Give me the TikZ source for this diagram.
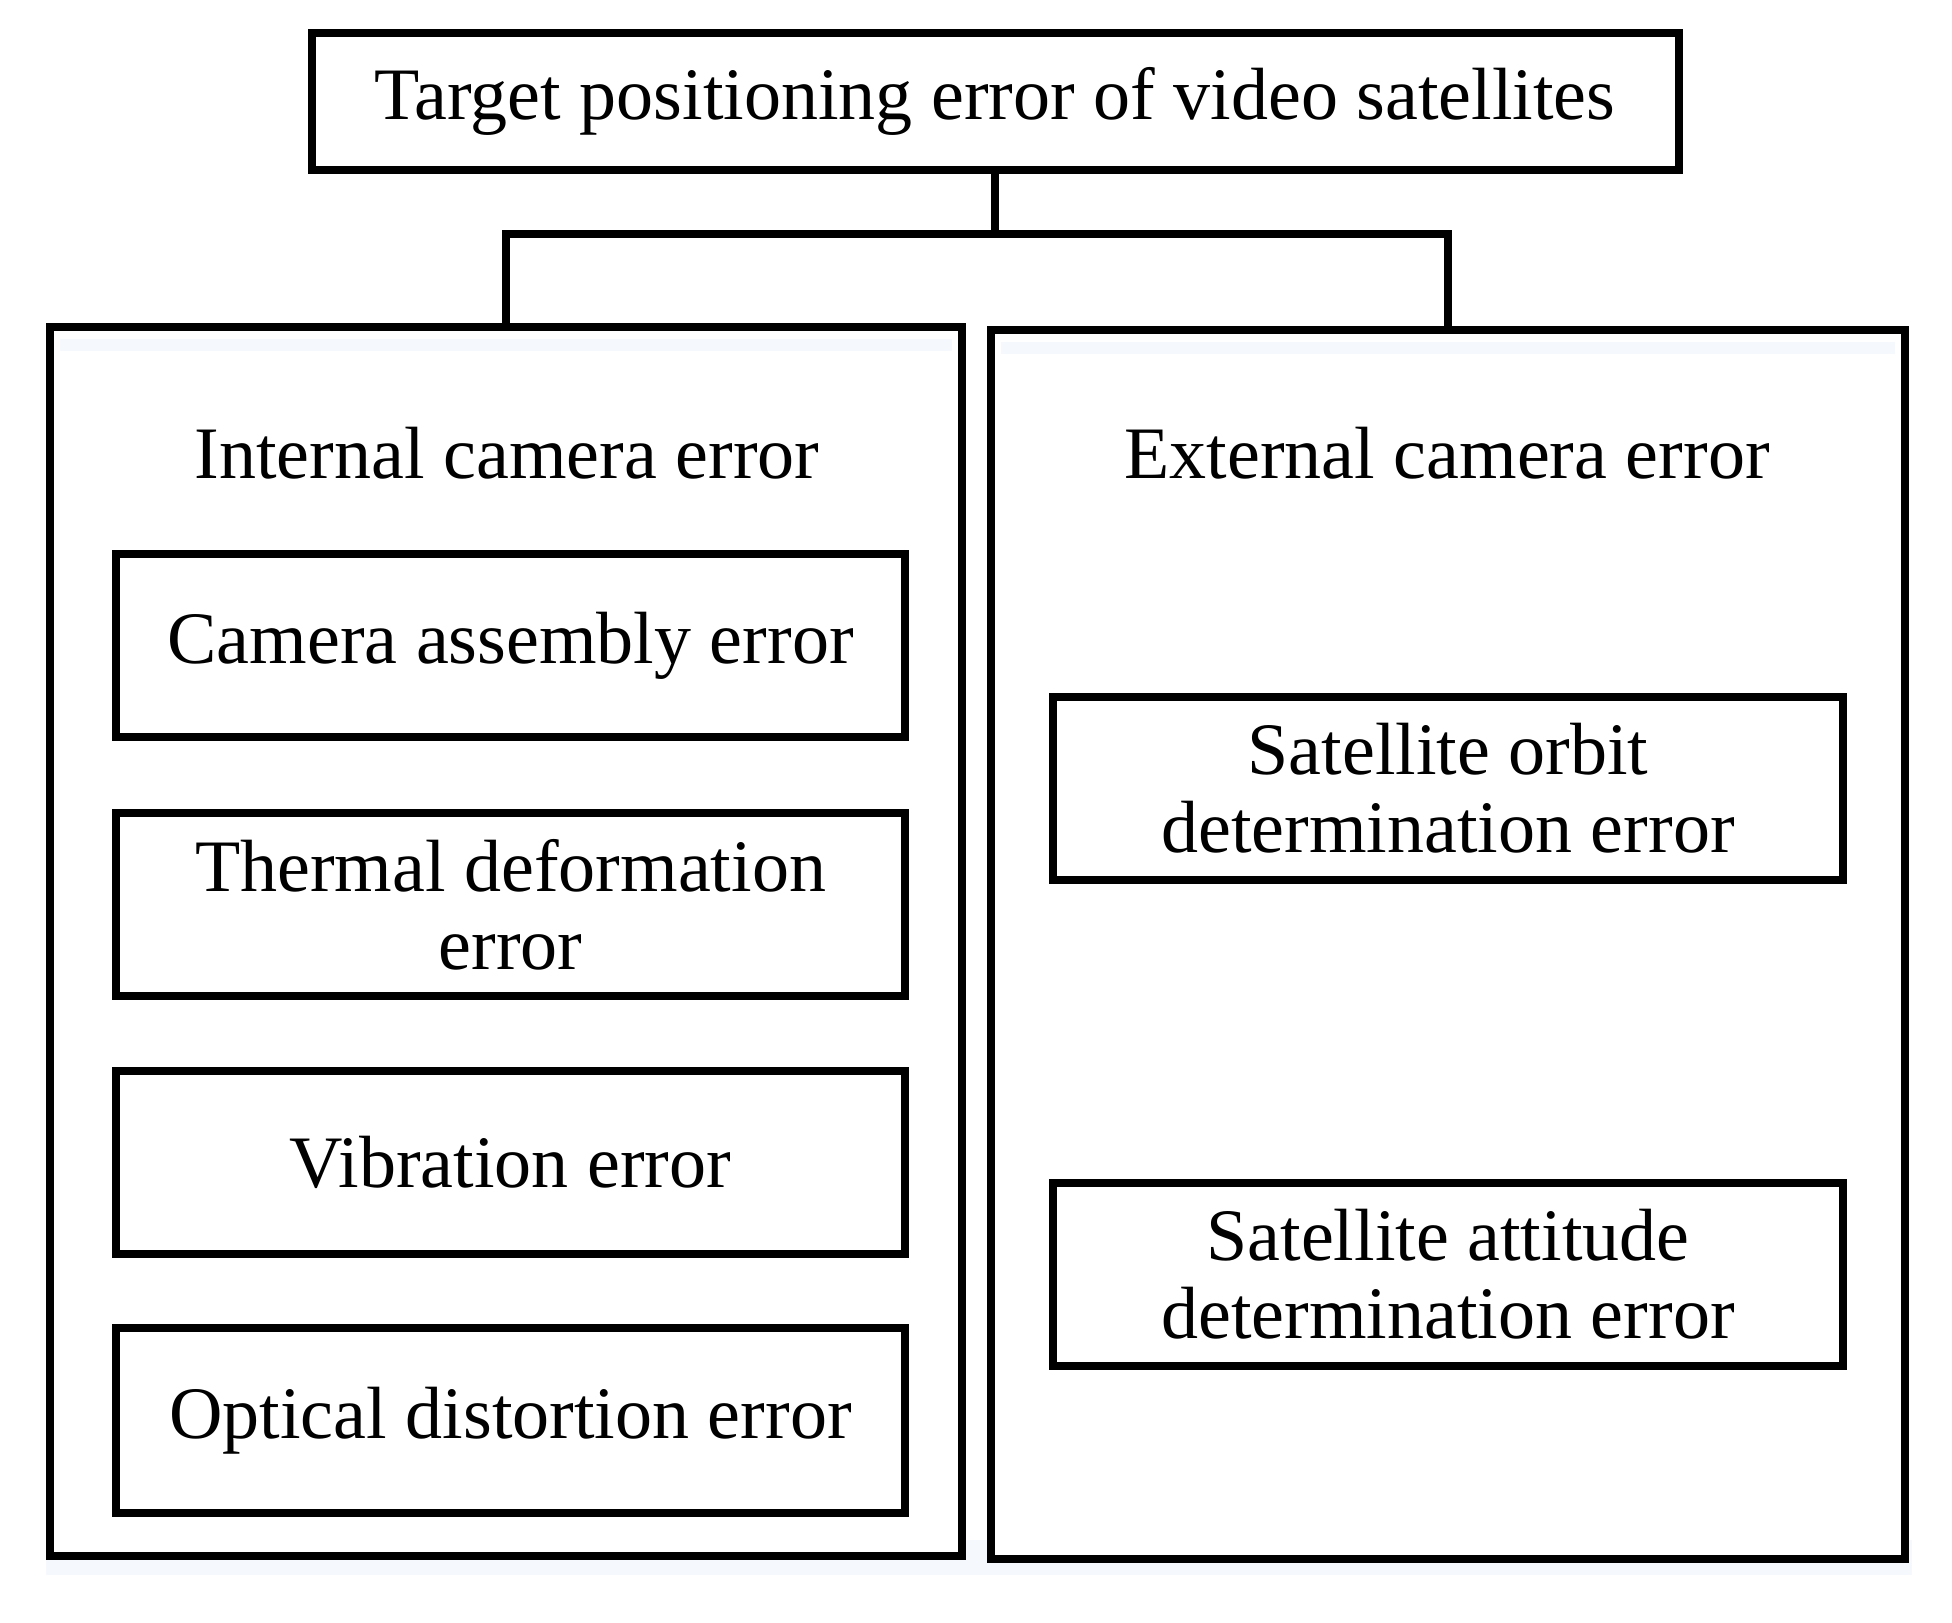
\documentclass[tikz,border=0pt]{standalone}
\usepackage{fontspec}
\setmainfont{Liberation Serif}
\definecolor{pale}{RGB}{245,248,252}
\begin{document}
\begin{tikzpicture}[x=0.5pt,y=-0.5pt,
  box/.style={draw=black,line width=4pt,rectangle,inner sep=0pt,align=center,
    font=\fontsize{37}{39}\selectfont},
  bigbox/.style={draw=black,line width=4pt,rectangle,inner sep=0pt,fill=white},
  lbl/.style={inner sep=0pt,font=\fontsize{37}{39}\selectfont},
  conn/.style={line width=4pt}]
\useasboundingbox (0,0) rectangle (1952,1622);
% pale glow below the big boxes
\fill[pale] (46,1540) rectangle (1912,1575);
\node[bigbox,minimum width=456pt,minimum height=614.5pt] (left) at (506,941.5) {};
\node[bigbox,minimum width=457pt,minimum height=614.5pt] (right) at (1448,944.5) {};
\draw[pale,line width=6pt] (60,345) -- (952,345);
\draw[pale,line width=6pt] (1001,348) -- (1895,348);
\node[box,minimum width=683.5pt,minimum height=68.5pt] (top) at (995,101) {Target positioning error of video satellites};
\coordinate (bar) at (995,234);
\draw[conn] (top.south) -- (bar);
\draw[conn] (left.north) |- (bar) -| (right.north);
\node[lbl] (int) at (507,453) {Internal camera error};
\node[lbl] (ext) at (1447,453) {External camera error};
\node[box,minimum width=394.5pt,minimum height=91.5pt] (ca) at (510.5,645.5) {Camera assembly error};
\node[box,minimum width=394.5pt,minimum height=91.5pt] (td) at (510.5,904.5) {Thermal deformation\\error};
\node[box,minimum width=394.5pt,minimum height=91.5pt] (vb) at (510.5,1162.5) {Vibration error};
\node[box,minimum width=394.5pt,minimum height=92.5pt] (od) at (510.5,1420.5) {Optical distortion error};
\node[box,minimum width=395pt,minimum height=91.5pt] (so) at (1448,788.5) {Satellite orbit\\determination error};
\node[box,minimum width=395pt,minimum height=91.5pt] (sa) at (1448,1274.5) {Satellite attitude\\determination error};
\end{tikzpicture}
\end{document}
